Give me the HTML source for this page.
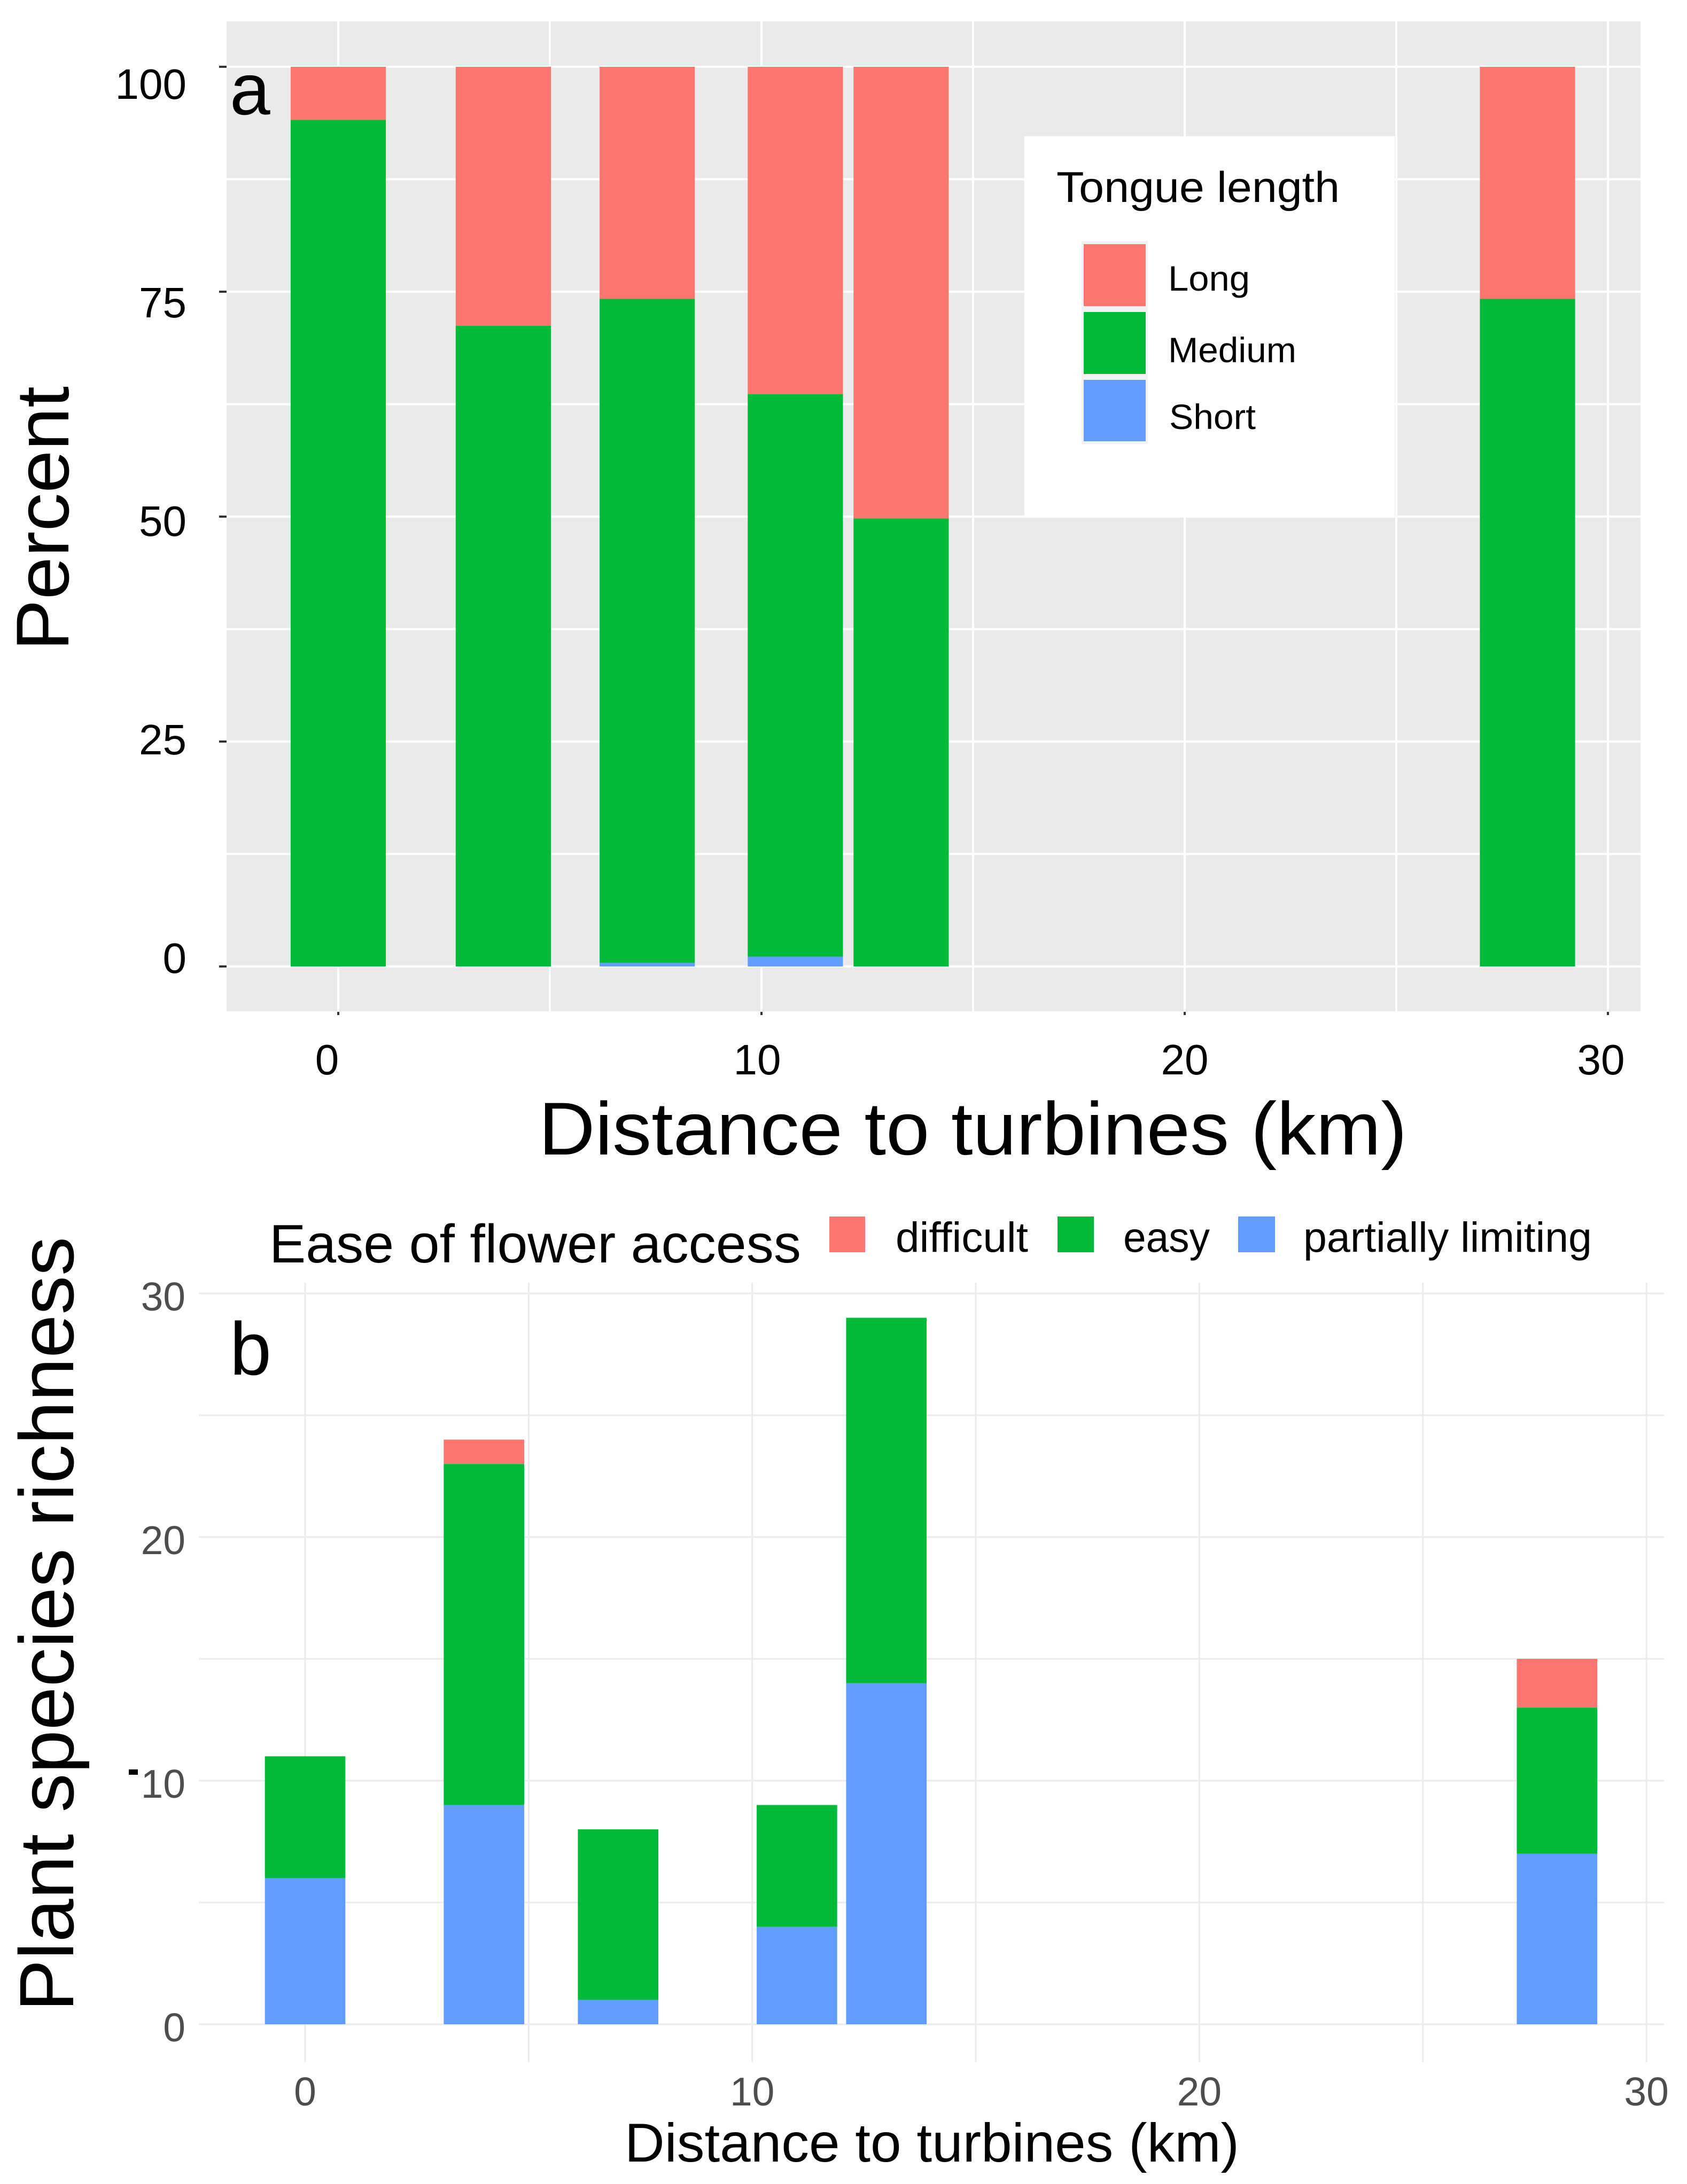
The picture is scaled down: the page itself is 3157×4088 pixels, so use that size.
<!DOCTYPE html>
<html lang="en">
<head>
<meta charset="utf-8">
<title>Tongue length and flower access by distance to turbines</title>
<style>
html,body{margin:0;padding:0;background:#fff;}
svg{display:block;font-family:"Liberation Sans",sans-serif;}
</style>
</head>
<body>
<svg id="figure" xmlns="http://www.w3.org/2000/svg" width="3157" height="4088" viewBox="0 0 3157 4088">
  <rect x="0" y="0" width="3157" height="4088" fill="#ffffff"/>

  <g id="panelA">
    <rect x="424" y="40" width="2646" height="1853" fill="#eaeaea"/>
    <g id="gridA"></g>
    <g id="barsA"></g>
    <g id="axesA"></g>
    <text x="612" y="2011" font-size="80" text-anchor="middle" fill="#000">0</text>
    <text x="1417" y="2011" font-size="80" text-anchor="middle" fill="#000">10</text>
    <text x="2217" y="2011" font-size="80" text-anchor="middle" fill="#000">20</text>
    <text x="2996" y="2011" font-size="80" text-anchor="middle" fill="#000">30</text>
    <text x="430" y="214" font-size="136" fill="#000">a</text>
    <text x="1008" y="2161" font-size="140" fill="#000" textLength="1625" lengthAdjust="spacingAndGlyphs">Distance to turbines (km)</text>
    <text transform="translate(128 1218) rotate(-90)" x="0" y="0" font-size="140" fill="#000" textLength="495" lengthAdjust="spacingAndGlyphs">Percent</text>

    <g>
      <rect x="1917" y="255" width="693" height="714" fill="#ffffff"/>
      <text x="1977" y="378" font-size="81" fill="#000" textLength="530" lengthAdjust="spacingAndGlyphs">Tongue length</text>
      <rect x="2024" y="451" width="124" height="380" fill="#f2f2f2"/>
      <rect x="2028" y="457" width="116" height="116" fill="#FB766E"/>
      <rect x="2028" y="584" width="116" height="116" fill="#00BA38"/>
      <rect x="2028" y="711" width="116" height="115" fill="#619CFF"/>
      <text x="2186" y="544" font-size="66" fill="#000" textLength="153" lengthAdjust="spacingAndGlyphs">Long</text>
      <text x="2186" y="678" font-size="66" fill="#000" textLength="240" lengthAdjust="spacingAndGlyphs">Medium</text>
      <text x="2188" y="803" font-size="66" fill="#000" textLength="162" lengthAdjust="spacingAndGlyphs">Short</text>
    </g>
  </g>

  <g id="panelB">
    <g id="gridB"></g>
    <g id="barsB"></g>
    <g id="axesB"></g>
    <rect x="241" y="3312" width="17" height="10" fill="#000"/>
    <text x="430" y="2573" font-size="140" fill="#000">b</text>
    <text x="1169" y="4046" font-size="102" fill="#000" textLength="1150" lengthAdjust="spacingAndGlyphs">Distance to turbines (km)</text>
    <text transform="translate(137 3765) rotate(-90)" x="0" y="0" font-size="144" fill="#000" textLength="1450" lengthAdjust="spacingAndGlyphs">Plant species richness</text>

    <g>
      <text x="504" y="2363" font-size="101" fill="#000" textLength="995" lengthAdjust="spacingAndGlyphs">Ease of flower access</text>
      <rect x="1552" y="2277" width="67" height="67" fill="#FB766E"/>
      <text x="1676" y="2343" font-size="79" fill="#000" textLength="248" lengthAdjust="spacingAndGlyphs">difficult</text>
      <rect x="1979" y="2277" width="68" height="67" fill="#00BA38"/>
      <text x="2102" y="2343" font-size="79" fill="#000" textLength="162" lengthAdjust="spacingAndGlyphs">easy</text>
      <rect x="2317" y="2277" width="69" height="67" fill="#619CFF"/>
      <text x="2439" y="2343" font-size="79" fill="#000" textLength="540" lengthAdjust="spacingAndGlyphs">partially limiting</text>
    </g>
  </g>
</svg>

<script>
// Panel a data: percent of each tongue-length class per site
const distanceA = [0, 3.9, 7.3, 10.8, 13.3, 28.1];
const shortPct = [0, 0, 0.4, 1.1, 0, 0];
const mediumPct = [94.1, 71.2, 73.8, 62.5, 49.8, 74.2];
const longPct = [5.9, 28.8, 25.8, 36.4, 50.2, 25.8];
const xTicksA = [0, 10, 20, 30];
const xMinorA = [5, 15, 25];
const yTicksA = [0, 25, 50, 75, 100];
const yMinorA = [12.5, 37.5, 62.5, 87.5];

// Panel b data: plant species counts per site
const distanceB = [0, 4, 7, 11, 13, 28];
const partialCount = [6, 9, 1, 4, 14, 7];
const easyCount = [5, 14, 7, 5, 15, 6];
const difficultCount = [0, 1, 0, 0, 0, 2];
const xTicksB = [0, 10, 20, 30];
const xMinorB = [5, 15, 25];
const yTicksB = [0, 10, 20, 30];
const yMinorB = [5, 15, 25];

const RED = '#FB766E';
const GREEN = '#00BA38';
const BLUE = '#619CFF';
const NS = 'http://www.w3.org/2000/svg';

// Axis functions
function xA(v) { return 633 + v * 79.2; }
function yA(v) { return 1809 - v * 16.84; }
function yLabelA(v) { return 1821 - v * 16.36; }
function xB(v) { return 571 + v * 83.67; }
function yB(v) { return 3789 - v * 45.6; }

const barWidthA = 2.25 * 79.2;
const barWidthB = 1.8 * 83.67;

function make(tag, parent) {
  const el = document.createElementNS(NS, tag);
  parent.appendChild(el);
  return el;
}
function setRect(el, x, y, w, h, fill) {
  el.setAttribute('x', x);
  el.setAttribute('y', y);
  el.setAttribute('width', w);
  el.setAttribute('height', h);
  el.setAttribute('fill', fill);
}
function setLine(el, x1, y1, x2, y2, stroke, width) {
  el.setAttribute('x1', x1);
  el.setAttribute('y1', y1);
  el.setAttribute('x2', x2);
  el.setAttribute('y2', y2);
  el.setAttribute('stroke', stroke);
  el.setAttribute('stroke-width', width);
}
function setText(el, x, y, size, anchor, fill, str) {
  el.setAttribute('x', x);
  el.setAttribute('y', y);
  el.setAttribute('font-size', size);
  el.setAttribute('text-anchor', anchor);
  el.setAttribute('fill', fill);
  el.textContent = str;
}

/* ---------- Panel a ---------- */
const gridA = document.getElementById('gridA');
const barsA = document.getElementById('barsA');
const axesA = document.getElementById('axesA');

xMinorA.concat(xTicksA).forEach(function (v) {
  const line = make('line', gridA);
  
  
  setLine(line, xA(v), 40, xA(v), 1893, '#ffffff', 4);
});
yMinorA.concat(yTicksA).forEach(function (v) {
  const line = make('line', gridA);
  
  
  setLine(line, 424, yA(v), 3070, yA(v), '#ffffff', 4);
});

distanceA.forEach(function (d, i) {
  const left = xA(d) - barWidthA / 2;
  const s = shortPct[i], m = mediumPct[i], l = longPct[i];

  const blue = make('rect', barsA);
  
  
  setRect(blue, left, yA(s), barWidthA, yA(0) - yA(s), BLUE);

  const green = make('rect', barsA);
  
  
  setRect(green, left, yA(s + m), barWidthA, yA(s) - yA(s + m), GREEN);

  const red = make('rect', barsA);
  
  
  setRect(red, left, yA(s + m + l), barWidthA, yA(s + m) - yA(s + m + l), RED);
});

yTicksA.forEach(function (v) {
  const tick = make('line', axesA);
  
  
  setLine(tick, 410, yA(v), 424, yA(v), '#333333', 4);

  const label = make('text', axesA);
  
  
  setText(label, 349, yLabelA(v), 80, 'end', '#000000', String(v));
});
xTicksA.forEach(function (v) {
  const tick = make('line', axesA);
  
  
  setLine(tick, xA(v), 1894, xA(v), 1900, '#333333', 4);
});

/* ---------- Panel b ---------- */
const gridB = document.getElementById('gridB');
const barsB = document.getElementById('barsB');
const axesB = document.getElementById('axesB');

xMinorB.concat(xTicksB).forEach(function (v) {
  const line = make('line', gridB);
  
  
  setLine(line, xB(v), 2401, xB(v), 3860, '#ebebeb', 3);
});
yMinorB.concat(yTicksB).forEach(function (v) {
  const line = make('line', gridB);
  
  
  setLine(line, 372, yB(v), 3114, yB(v), '#ebebeb', 3);
});

distanceB.forEach(function (d, i) {
  const left = xB(d) - barWidthB / 2;
  const p = partialCount[i], e = easyCount[i], f = difficultCount[i];

  const blue = make('rect', barsB);
  
  
  setRect(blue, left, yB(p), barWidthB, yB(0) - yB(p), BLUE);

  const green = make('rect', barsB);
  
  
  setRect(green, left, yB(p + e), barWidthB, yB(p) - yB(p + e), GREEN);

  const red = make('rect', barsB);
  
  
  setRect(red, left, yB(p + e + f), barWidthB, yB(p + e) - yB(p + e + f), RED);
});

yTicksB.forEach(function (v) {
  const label = make('text', axesB);
  
  
  setText(label, 347, yB(v) + 32, 75, 'end', '#4d4d4d', String(v));
});
xTicksB.forEach(function (v) {
  const label = make('text', axesB);
  
  
  setText(label, xB(v), 3941, 75, 'middle', '#4d4d4d', String(v));
});
</script>
</body>
</html>
